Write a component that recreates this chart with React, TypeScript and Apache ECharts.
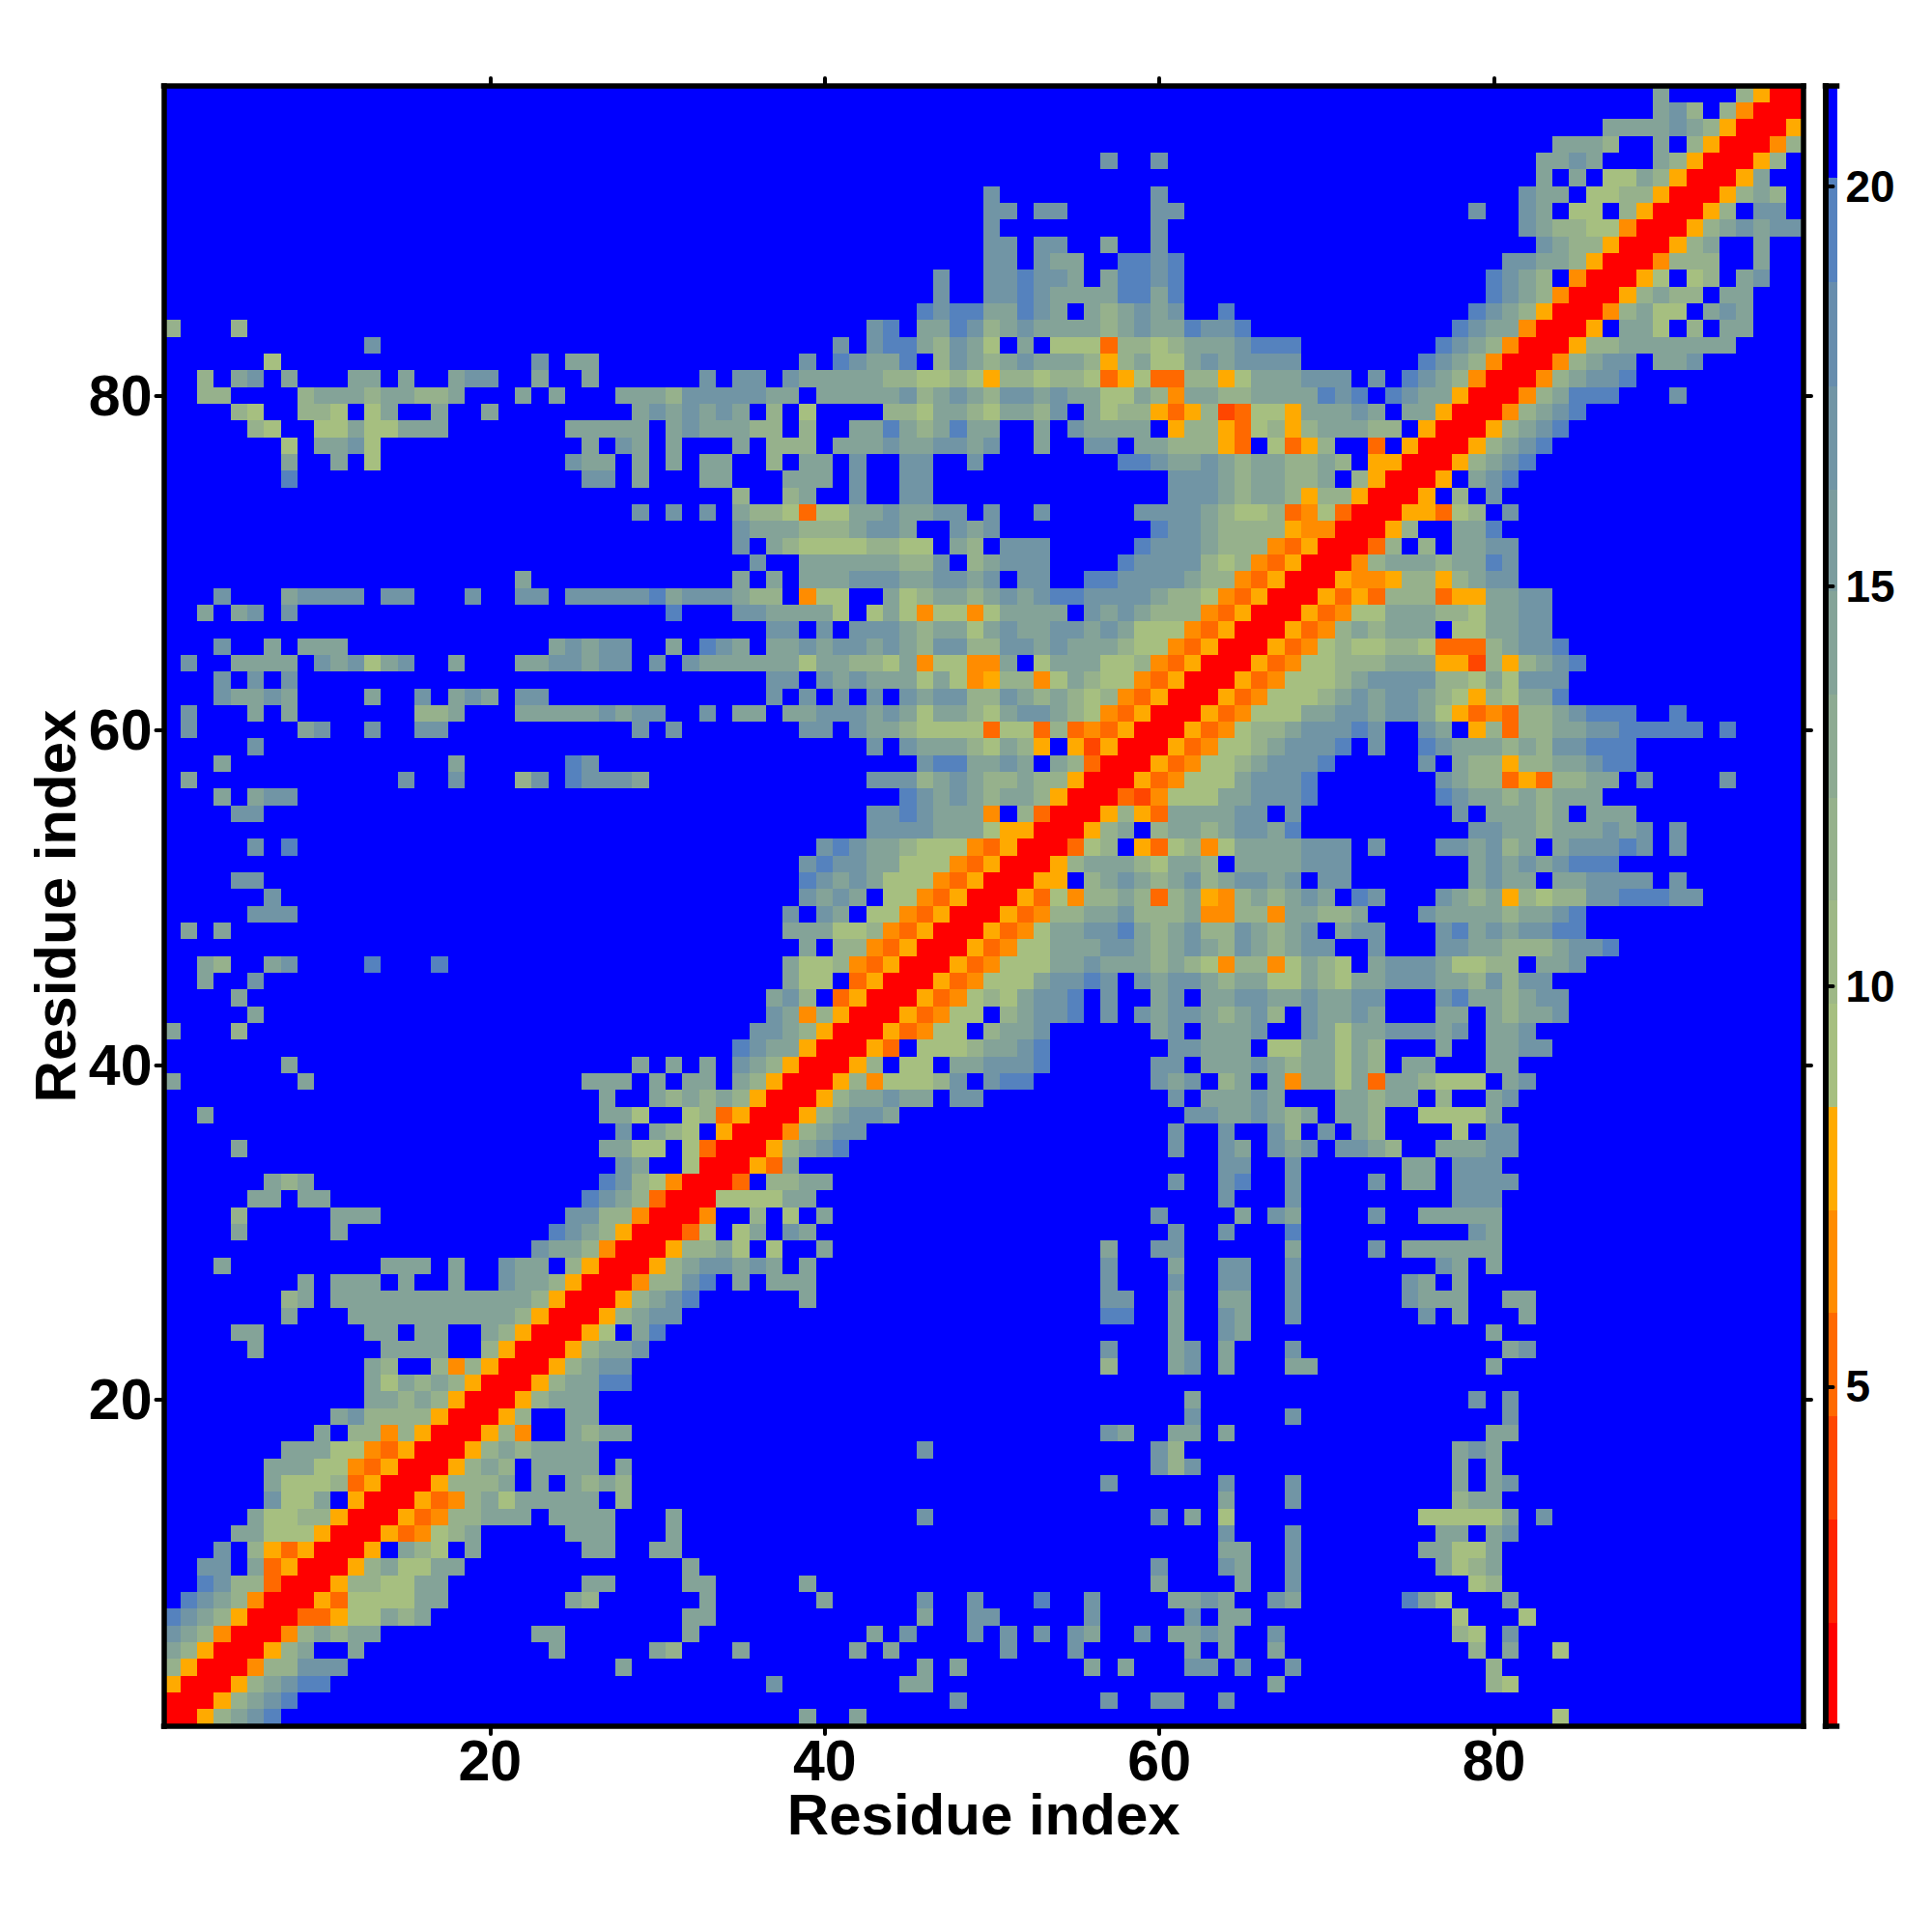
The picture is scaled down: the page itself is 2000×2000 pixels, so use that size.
import React, { useEffect, useRef } from "react";
import * as echarts from "echarts";

// Residue-index categories and axis ticks
const residues = Array.from({ length: 98 }, (_, i) => String(i + 1));
const colorbarTicks = [5, 10, 15, 20];

// Distance level of each symbol
const levels: Record<string, number> = { r: 1.4, e: 4.0, d: 5.2, O: 6.5, o: 7.8, "1": 9.1, "2": 11.7, "3": 14.3, "4": 17.0, "5": 19.4 };
const beyond = 21;

// Colour key: band edges and colours
const bandEdges = [0.755, 2.05, 3.34, 4.63, 5.92, 7.2, 8.49, 9.78, 11.07, 12.36, 13.65, 14.94, 16.2, 17.5, 18.8, 20.1, 21.25];
const bandColors = ["#ff0000", "#ff2300", "#ff4600", "#ff6900", "#ff8c00", "#ffaa00", "#a6bf80", "#9eb886", "#96b18c", "#8daa92", "#84a398", "#7b9c9e", "#7195a5", "#678dad", "#5582be", "#0000ff"];

// Sparse rows from the top (residue 98) to the bottom (residue 1): "column:levels"
const rows = [
"89:3 94:2orr",
"89:342 93:2Orrr",
"86:3333432orrro",
"83:3332 89:3 91:2orrrO2",
"56:4 59:4 82:3343 89:32orrro2",
"82:3 84:3 86:1132orrro3",
"49:4 59:4 81:433 85:1122orrro232",
"49:44 52:44 59:44 78:4 81:43 84:11 87:2orrro2 95:44",
"49:4 59:4 81:432211Orrro234344",
"49:44 52:44 56:3 59:4 82:4322orrro23 95:3",
"49:44 52:433 57:5545 80:44332orrrO222 95:3",
"46:4 49:445443 56:35545 79:5432 84:Orrro1 91:12 94:34",
"46:4 49:445433335535 79:5432Orrro2322 93:33",
"45:545533543 55:323434 63:5 78:5432orrrO2311 92:343",
"0:2 4:2 42:45 45:33542343333234335445 77:5433Orrro 87:331 91:2 93:33",
"12:4 40:4 42:45532431 51:3 53:111d22123334555 76:5432Orrro223333333",
"6:1 22:4 24:33 38:4 40:54335 46:2432343332o23113434444 75:5432OrrrO2344 89:334",
"2:2 4:34 7:3 11:33 14:3 17:344 22:3 25:3 32:4 34:44 37:433333221121o221221do1dd22o1333444 72:4 74:5432OrrrO23445",
"2:22 8:2333233223 21:3 23:3 27:33324444433 39:333334234324434331132O33223333545 73:5433orrrO23555 90:4",
"4:21 8:221 12:13 16:3 19:3 28:3434343 36:2 38:1 43:22133213324 55:3122odo2ed11o33343 74:33orrrO2345",
"5:21 9:11311333 24:33333 30:3433322 38:2 41:335323533 52:3 54:43333 60:o22od12o233322 75:orrro2345",
"7:1 9:3341 25:3 27:43 30:3 34:3 36:222 40:3334334434 52:3 55:44 58:33222od 66:1do2 72:d 74:orrro2345",
"7:3 10:3 12:1 24:433 28:3 30:3 32:33 36:2 38:33 41:4 44:44 48:4 57:55433432332232 72:oorrro2345",
"7:5 25:44 28:3 32:33 37:333 41:4 44:44 60:4443233223 71:2orrro 78:345",
"34:2 37:23 41:4 44:44 60:44432332o22orrro 77:2 79:4",
"28:4 30:4 32:4 34:3221d113343344 49:4 52:4 58:444432112dO1drrrood12 80:4",
"34:43332223443 47:434 59:54432222oOOrrro2 77:335",
"34:4 36:3211112211 47:32 50:444 58:54443222Odorrrd2 75:2 77:3344",
"35:4 38:333333224 48:23444 57:54444212OdorrrO233323354",
"21:3 34:3 36:3 38:333444334434 51:44 55:554444322OdorrroOOo22o2344",
"3:4 7:34444 13:44 18:4 21:44 24:4444453444322 38:O11 43:31233234345544443221Odorrrodod222doo3344",
"2:3 4:34 7:4 30:5 34:4433331 42:131O11O13333 55:4343222OdorrrodO113332213344",
"36:44 39:4 41:44432331343344343111OdorrrodO232333 77:113344",
"3:4 6:3 8:333 23:34344 30:3 32:543 36:334344343244224434333211OdorrrodO1211221ddd23445",
"1:4 4:3333 9:434134 17:3 21:3344344 29:4 31:43333331332213O11OO3 52:1333112OdorrrodO11222333ooe2o2345",
"3:4 5:4 7:4 36:44 39:434333131Oo22O13211OdorrrodO11123444422131444",
"3:43343 12:3 15:4 17:343 21:44 36:4 38:4 40:4 42:4 44:4344224323212OdorrrodO111234344321o21335",
"1:4 5:3 7:3 15:223 21:333334344 32:4 34:33 37:3344434313321344321OdorrrodO111334434431odOd2234555 90:5",
"1:4 8:34 12:4 15:44 28:4 30:4 38:44 41:43321111d11d2dOdorrrodO122344454 75:43 78:o2d22334455555 93:5",
"5:4 42:4 44:43332132o 54:oeorrrodO11234445 72:4 75:5433323244555",
"3:3 17:3 24:54 45:4553343 53:32drrrodO11234445 75:4 77:322o2233455",
"1:3 14:4 17:4 21:24 24:54443 42:444234322322 54:orrrodO11134445 76:4322dod2233 88:4 93:4",
"3:3 5:344 44:543432332 53:orrrdeO111334445 76:5433232333",
"4:44 42:4454333O 51:2drrro2od333344 67:4 77:4 79:33323 85:333",
"42:44443331oorrro23 59:233234435 78:44332333434 90:4",
"5:4 7:5 39:454332111Odorrrd12 58:od12O13333444 72:4 76:443423 83:344454 90:4",
"38:454433111Odorrro233321332 64:3333444 78:343434555",
"4:44 38:54343111Odorrroo 55:2343234234434 69:44 78:3433 83:334444 90:4",
"6:4 38:4343 43:11Odorrrod1O2232d23oO232343 71:54 76:4323o21224455544",
"5:444 37:4 39:43 42:11OdorrrodO223342223OO22O33223 75:4333323345",
"1:3 3:3 37:333112OdorrrodO13344532342243234 70:344 76:453434455",
"38:3 40:22OdorrrodO1133344323432432344 72:4 76:44332223445",
"2:32 6:34 12:5 16:5 37:3112OdorrrodO1113343332321O22O1321 72:344431122 82:334",
"2:3 5:4 37:311 41:dorrrodO11134454 58:4344323311321334443324244",
"4:3 36:342 40:dorrrodO1213445 56:4 59:34 62:33443343344 76:45332344",
"5:3 36:43O2orrrodO11 50:23445 56:4 58:434432342 68:43343 76:33 79:32334",
"0:3 4:2 35:4432orrrodO11 49:2334 59:34 62:3334 68:4313344434 79:334",
"34:5433orrrod 45:11123345 60:44333 66:1133132 76:3 79:3344",
"7:3 28:3 30:3 32:3 34:432orrro2 44:11 47:334445 59:44 62:33343233132 74:33 79:33",
"0:3 8:3 25:333 29:3 31:33 34:32orrro2O11124 49:455 59:434 63:23 66:3O3313d332111 80:34",
"26:3 29:323232 35:orrro233433 47:44 60:4 62:33343 70:33233 76:2 79:34",
"2:3 26:331 31:12dorrro23443 61:44334323 70:332 75:11113",
"27:4 29:321 33:orrrO2344 60:4 63:4 66:42 69:4 71:32 77:1 79:44",
"4:3 26:3311 31:1drrro2345 60:4 63:43 66:434 70:4432 76:33344",
"27:43 31:1rrrod3 63:44 67:4 74:33 77:444",
"6:323 26:5421Orrrd 36:2233 60:4 63:45 67:4 72:4 74:33 77:4444",
"5:33 8:33 25:5432drrr111133 63:4 67:4 77:444",
"4:2 10:333 24:4422OrrrO 35:2 37:1 39:3 59:4 64:3 66:43 72:4 75:33333",
"4:3 10:3 23:5432orrrd1 34:13 37:43 60:4 63:4 67:5 78:43",
"22:4332Orrro2231 36:1 39:3 56:3 59:44 67:3 72:4 74:333333",
"3:3 13:333 17:3 20:433 24:2orrro2344343 38:3 56:4 60:3 63:44 67:4 76:43 79:3",
"8:3 10:333 14:3 17:3 20:4332orrrO2245 34:3 36:333 56:4 60:4 63:44 67:4 74:43 77:3",
"7:23 10:3333333333332orrro2345 38:3 56:44 60:3 63:33 67:4 74:4333 80:33",
"7:3 11:33333333332orrro2344 56:55 60:3 63:43 67:4 75:4 77:3 81:3",
"4:33 12:33 15:33 19:32orrro1 28:35 60:3 63:43 79:3",
"5:3 13:3333 19:2orrro2334 56:4 60:34 63:3 67:4 80:34",
"12:32 16:2O2orrro2344 56:2 60:34 63:3 67:33 79:3",
"12:313232orrro23355",
"12:33232orrro2333 61:3 78:4 80:4",
"10:342222orrro2 24:33 61:4 67:4 80:4",
"9:3 11:22O2orrro2O 24:3233 56:43 60:33 63:3 79:33",
"7:33311Odorrro2323333 45:4 59:42 77:343",
"6:33311Odorrro232 22:3333 27:3 59:424 77:3 79:3",
"6:31112dorrro2223 22:3 24:3232 56:4 63:4 67:4 77:3 79:34",
"6:4113 11:orrrodO23133333 27:2 63:3 67:4 77:233",
"5:31122orrrodO22333 23:3333 30:3 45:4 59:4 61:3 63:1 75:111113 82:4",
"4:33111orrrodO123 24:333 30:3 63:4 67:4 76:33 79:34",
"3:4 5:2odorrro 14:321 18:3 25:33 29:33 63:33 67:4 75:33113",
"2:44 5:3dorrro231133 31:3 59:4 63:43 67:4 76:3123",
"2:5422drrro221133 25:33 31:33 38:3 59:3 64:3 67:4 78:12",
"1:5432Orrrod111133 24:32 32:3 39:3 45:4 48:4 52:5 55:4 60:3343 66:43 74:531 80:3",
"0:5432orrrddo11323 31:33 45:3 48:44 55:4 61:4 63:33 77:1 81:1",
"0:432OrrrO23233 22:33 31:3 42:3 44:4 48:4 50:4 52:4 54:43 58:4 60:3343 66:4 77:21 80:4",
"0:32orrro23 11:3 23:3 29:32 34:3 41:3 43:3 50:4 54:4 61:3 63:3 66:3 78:2 80:3 83:1",
"0:2orrrO22444 27:3 45:3 47:3 55:3 57:3 61:44 64:4 67:4 79:2",
"0:orrro23455 36:4 44:33 66:3 79:21",
"0:rrro2345 47:4 56:4 59:44 63:4",
"0:rro2345 38:3 41:3 83:1",
];

const FONT = "Liberation Sans";

function buildCells(): number[][] {
  const n = residues.length;
  const cells: number[][] = [];
  const grid: number[][] = Array.from({ length: n }, () => new Array(n).fill(beyond));
  rows.forEach((row, r) => {
    row.split(" ").forEach((seg) => {
      const [start, chars] = seg.split(":");
      [...chars].forEach((ch, k) => {
        const col = Number(start) + k;
        if (col < n) grid[r][col] = levels[ch];
      });
    });
  });
  grid.forEach((row, r) => row.forEach((v, c) => cells.push([c, n - 1 - r, v])));
  return cells;
}

const frameLine = { show: true, lineStyle: { color: "#000", width: 5.5, cap: "square" } };
const tickStyle = { show: true, length: 8, lineStyle: { color: "#000", width: 4, cap: "round" } };
const everyTwenty = (i: number) => (i + 1) % 20 === 0;
const labelFont = { color: "#000", fontFamily: FONT, fontWeight: "bold" };

export default function App() {
  const ref = useRef<HTMLDivElement>(null);
  useEffect(() => {
    document.body.style.margin = "0";
    const chart = echarts.init(ref.current!, undefined, { renderer: "svg" });
    const catTick = { ...tickStyle, alignWithLabel: true, interval: everyTwenty };
    const nameCfg = { name: "Residue index", nameLocation: "middle", nameMoveOverlap: false, nameTextStyle: { ...labelFont, fontSize: 60 } };
    const barAxisY = { type: "value", min: bandEdges[0], max: bandEdges[bandEdges.length - 1], gridIndex: 1, splitLine: { show: false }, z: 5 };
    const barAxisX = { type: "value", min: 0, max: 1, gridIndex: 1, splitLine: { show: false }, axisTick: { show: false }, axisLabel: { show: false }, axisLine: frameLine, z: 5 };
    chart.setOption({
      animation: false,
      backgroundColor: "#fff",
      grid: [
        { left: 169.5, top: 89, width: 1697.5, height: 1698, outerBoundsMode: "none", show: true, backgroundColor: "#0000ff", borderWidth: 0 },
        { left: 1889.5, top: 89, width: 12, height: 1698, outerBoundsMode: "none" },
      ],
      xAxis: [
        { type: "category", data: residues, gridIndex: 0, position: "bottom", axisLine: frameLine, axisTick: catTick, splitLine: { show: false }, z: 5,
          axisLabel: { ...labelFont, fontSize: 59, interval: everyTwenty, margin: 6 }, ...nameCfg, nameGap: 61 },
        { type: "category", data: residues, gridIndex: 0, position: "top", axisLine: frameLine, axisTick: catTick, axisLabel: { show: false }, splitLine: { show: false }, z: 5 },
        { ...barAxisX, position: "bottom" },
        { ...barAxisX, position: "top" },
      ],
      yAxis: [
        { type: "category", data: residues, gridIndex: 0, position: "left", axisLine: frameLine, axisTick: catTick, splitLine: { show: false }, z: 5,
          axisLabel: { ...labelFont, fontSize: 59, interval: everyTwenty, margin: 12 }, ...nameCfg, nameGap: 82 },
        { type: "category", data: residues, gridIndex: 0, position: "right", axisLine: frameLine, axisTick: catTick, axisLabel: { show: false }, splitLine: { show: false }, z: 5 },
        { ...barAxisY, position: "left", axisLine: frameLine, axisTick: { show: false }, axisLabel: { show: false } },
        { ...barAxisY, position: "right", axisLine: frameLine,
          axisTick: { ...tickStyle, customValues: colorbarTicks },
          axisLabel: { ...labelFont, fontSize: 46, margin: 9, customValues: colorbarTicks, formatter: (v: number) => String(v) } },
      ],
      visualMap: {
        show: false,
        seriesIndex: 0,
        type: "piecewise",
        pieces: bandColors.map((color, i) => ({ min: bandEdges[i], max: bandEdges[i + 1], color })),
      },
      series: [
        { type: "heatmap", xAxisIndex: 0, yAxisIndex: 0, data: buildCells(), silent: true, progressive: 0, itemStyle: { borderWidth: 0 } },
        {
          type: "custom",
          xAxisIndex: 2,
          yAxisIndex: 2,
          silent: true,
          data: bandColors.map((_, i) => [bandEdges[i], bandEdges[i + 1]]),
          encode: { y: [0, 1] },
          renderItem: (params: any, api: any) => {
            const lo = api.coord([0, api.value(0)]);
            const hi = api.coord([1, api.value(1)]);
            return {
              type: "rect",
              shape: { x: lo[0], y: hi[1], width: hi[0] - lo[0], height: lo[1] - hi[1] },
              style: { fill: bandColors[params.dataIndex] },
            };
          },
        },
      ],
    });
    return () => chart.dispose();
  }, []);
  return (
    <>
      <style>{'svg path[fill]:not([fill="none"]) { shape-rendering: crispEdges; }'}</style>
      <div ref={ref} style={{ width: 2000, height: 2000 }} />
    </>
  );
}
